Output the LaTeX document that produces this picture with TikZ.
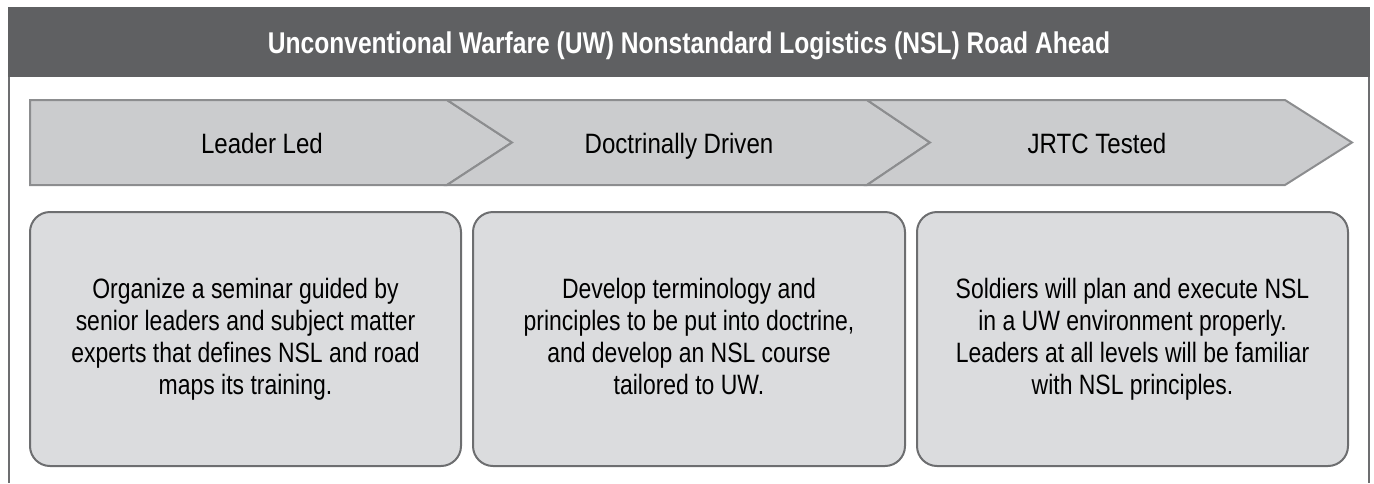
\documentclass[tikz,border=0pt]{standalone}
\usepackage{fontspec}
\setmainfont[FakeStretch=0.82]{Liberation Sans}
\newfontfamily\chevfont[FakeStretch=0.86]{Liberation Sans}
\definecolor{hdr}{HTML}{5F6062}
\definecolor{chevfill}{HTML}{CBCCCE}
\definecolor{chevline}{HTML}{8C8D8F}
\definecolor{boxfill}{HTML}{DBDCDE}
\definecolor{boxline}{HTML}{6D6E70}
\definecolor{frameline}{HTML}{6D6E70}
\begin{document}
\begin{tikzpicture}[x=1pt,y=-1pt,
  chev/.style={fill=chevfill,draw=chevline,line width=2pt,line join=miter},
  chevtext/.style={font=\chevfont\fontsize{28}{32}\selectfont,text=black,anchor=base},
  rbox/.style={fill=boxfill,draw=boxline,line width=2pt,rounded corners=20pt},
  boxtext/.style={font=\fontsize{28}{31.8}\selectfont,align=center,text=black,anchor=base},
  frame/.style={draw=frameline,line width=2pt}]
\useasboundingbox (0,0) rectangle (1374,483);
% header
\fill[hdr] (8,7) rectangle (1370,77);
\node[font=\bfseries\fontsize{30}{34}\selectfont,text=white,anchor=base] (title) at (689,53)
  {Unconventional Warfare (UW) Nonstandard Logistics (NSL) Road Ahead};
% frame sides
\coordinate (fl1) at (9,77); \coordinate (fl2) at (9,483);
\coordinate (fr1) at (1369,77); \coordinate (fr2) at (1369,483);
\draw[frame] (fl1) -- (fl2);
\draw[frame] (fr1) -- (fr2);
% chevrons
\draw[chev] (30,100) -- (447,100) -- (512,142.5) -- (447,185) -- (30,185) -- cycle;
\draw[chev] (447,100) -- (867,100) -- (930,142.5) -- (867,185) -- (447,185) -- (512,142.5) -- cycle;
\draw[chev] (867,100) -- (1285,100) -- (1352,142.5) -- (1285,185) -- (867,185) -- (930,142.5) -- cycle;
\node[chevtext] (c1) at (262,153) {Leader Led};
\node[chevtext] (c2) at (679,153) {Doctrinally Driven};
\node[chevtext] (c3) at (1097,153) {JRTC Tested};
% boxes
\draw[rbox] (30,212) rectangle (461,466);
\draw[rbox] (473,212) rectangle (905,466);
\draw[rbox] (917,212) rectangle (1348,466);
\node[boxtext] (b1) at (245.5,394) {Organize a seminar guided by\\senior leaders and subject matter\\experts that defines NSL and road\\maps its training.};
\node[boxtext] (b2) at (689,394) {Develop terminology and\\principles to be put into doctrine,\\and develop an NSL course\\tailored to UW.};
\node[boxtext] (b3) at (1132.5,394) {Soldiers will plan and execute NSL\\in a UW environment properly.\\Leaders at all levels will be familiar\\with NSL principles.};
\end{tikzpicture}
\end{document}
